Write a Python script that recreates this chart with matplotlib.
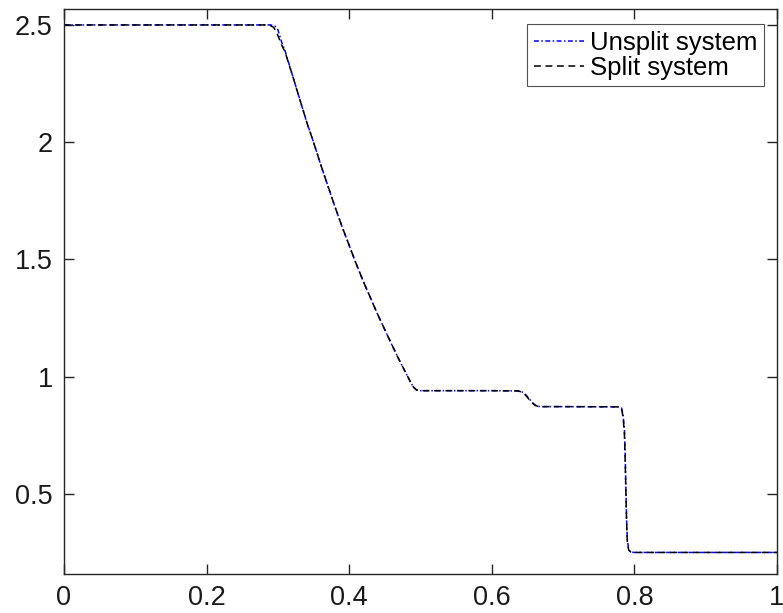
import numpy as np
import matplotlib
matplotlib.use('Agg')
import matplotlib.pyplot as plt

plt.rcParams['font.family'] = ['Liberation Sans', 'DejaVu Sans']

# 그림에서 읽은 값 (unsplit)
x_unsplit = [0.0, 0.290, 0.296, 0.300, 0.303, 0.306, 0.310, 0.320, 0.330, 0.340,
             0.350, 0.360, 0.370, 0.380, 0.390, 0.400, 0.410, 0.420, 0.430, 0.440,
             0.450, 0.460, 0.470, 0.480, 0.486, 0.490, 0.494, 0.498, 0.600, 0.638,
             0.643, 0.648, 0.653, 0.657, 0.661, 0.665, 0.670, 0.700, 0.779, 0.782,
             0.784, 0.786, 0.787, 0.788, 0.789, 0.790, 0.792, 0.795, 0.800, 1.0]
y_unsplit = [2.5, 2.5, 2.495, 2.48, 2.45, 2.42, 2.39, 2.29, 2.19, 2.09,
             2.0, 1.905, 1.815, 1.725, 1.64, 1.56, 1.48, 1.405, 1.335, 1.265,
             1.2, 1.135, 1.072, 1.013, 0.977, 0.956, 0.944, 0.940, 0.940, 0.939,
             0.934, 0.922, 0.904, 0.889, 0.878, 0.873, 0.872, 0.872, 0.871, 0.866,
             0.84, 0.78, 0.68, 0.54, 0.40, 0.31, 0.262, 0.252, 0.25, 0.25]

# split
x_split = [0.0, 0.288, 0.294, 0.298, 0.302, 0.306, 0.310, 0.320, 0.330, 0.340,
           0.350, 0.360, 0.370, 0.380, 0.390, 0.400, 0.410, 0.420, 0.430, 0.440,
           0.450, 0.460, 0.470, 0.480, 0.486, 0.490, 0.494, 0.498, 0.600, 0.637,
           0.642, 0.647, 0.652, 0.657, 0.661, 0.665, 0.670, 0.700, 0.779, 0.782,
           0.784, 0.786, 0.787, 0.788, 0.789, 0.790, 0.792, 0.795, 0.800, 1.0]
y_split = [2.5, 2.5, 2.49, 2.47, 2.44, 2.41, 2.385, 2.29, 2.19, 2.09,
           2.0, 1.905, 1.815, 1.725, 1.64, 1.56, 1.48, 1.405, 1.335, 1.265,
           1.2, 1.135, 1.072, 1.013, 0.977, 0.956, 0.944, 0.940, 0.940, 0.939,
           0.934, 0.922, 0.904, 0.887, 0.877, 0.873, 0.872, 0.872, 0.871, 0.864,
           0.83, 0.76, 0.66, 0.52, 0.39, 0.30, 0.26, 0.252, 0.25, 0.25]

xticks = [0, 0.2, 0.4, 0.6, 0.8, 1]
yticks = [0.5, 1, 1.5, 2, 2.5]
xtick_labels = ['0', '0.2', '0.4', '0.6', '0.8', '1']
ytick_labels = ['0.5', '1', '1.5', '2', '2.5']

fig = plt.figure(figsize=(7.83, 6.13), dpi=100)
ax = fig.add_axes([0.0817, 0.0636, 0.9106, 0.9217])

ax.plot(x_unsplit, y_unsplit, color='#0000ff', linestyle=(0, (3.2, 1.6, 1.0, 1.6)),
        linewidth=1.1, label='Unsplit system')
ax.plot(x_split, y_split, color='black', linestyle=(0, (4.5, 3.0)),
        linewidth=1.1, label='Split system')

ax.set_xlim(0, 1)
ax.set_ylim(0.158, 2.568)
ax.set_xticks(xticks)
ax.set_xticklabels(xtick_labels)
ax.set_yticks(yticks)
ax.set_yticklabels(ytick_labels)

spine_color = '#262626'
for s in ax.spines.values():
    s.set_color(spine_color)
    s.set_linewidth(1.0)
ax.tick_params(direction='in', length=7, width=1.0, color=spine_color,
               top=True, right=True, labelsize=19.5, labelcolor='#1a1a1a', pad=8)

# 범례: 오른쪽 위, 각진 테두리
leg = ax.legend(loc='upper right', bbox_to_anchor=(0.982, 0.973), borderaxespad=0,
                fontsize=18.5, frameon=True, fancybox=False, handlelength=1.95,
                handletextpad=0.25, borderpad=0.25, labelspacing=0.05)
leg.get_frame().set_edgecolor(spine_color)
leg.get_frame().set_linewidth(0.8)

fig.savefig('out.png', dpi=100)
